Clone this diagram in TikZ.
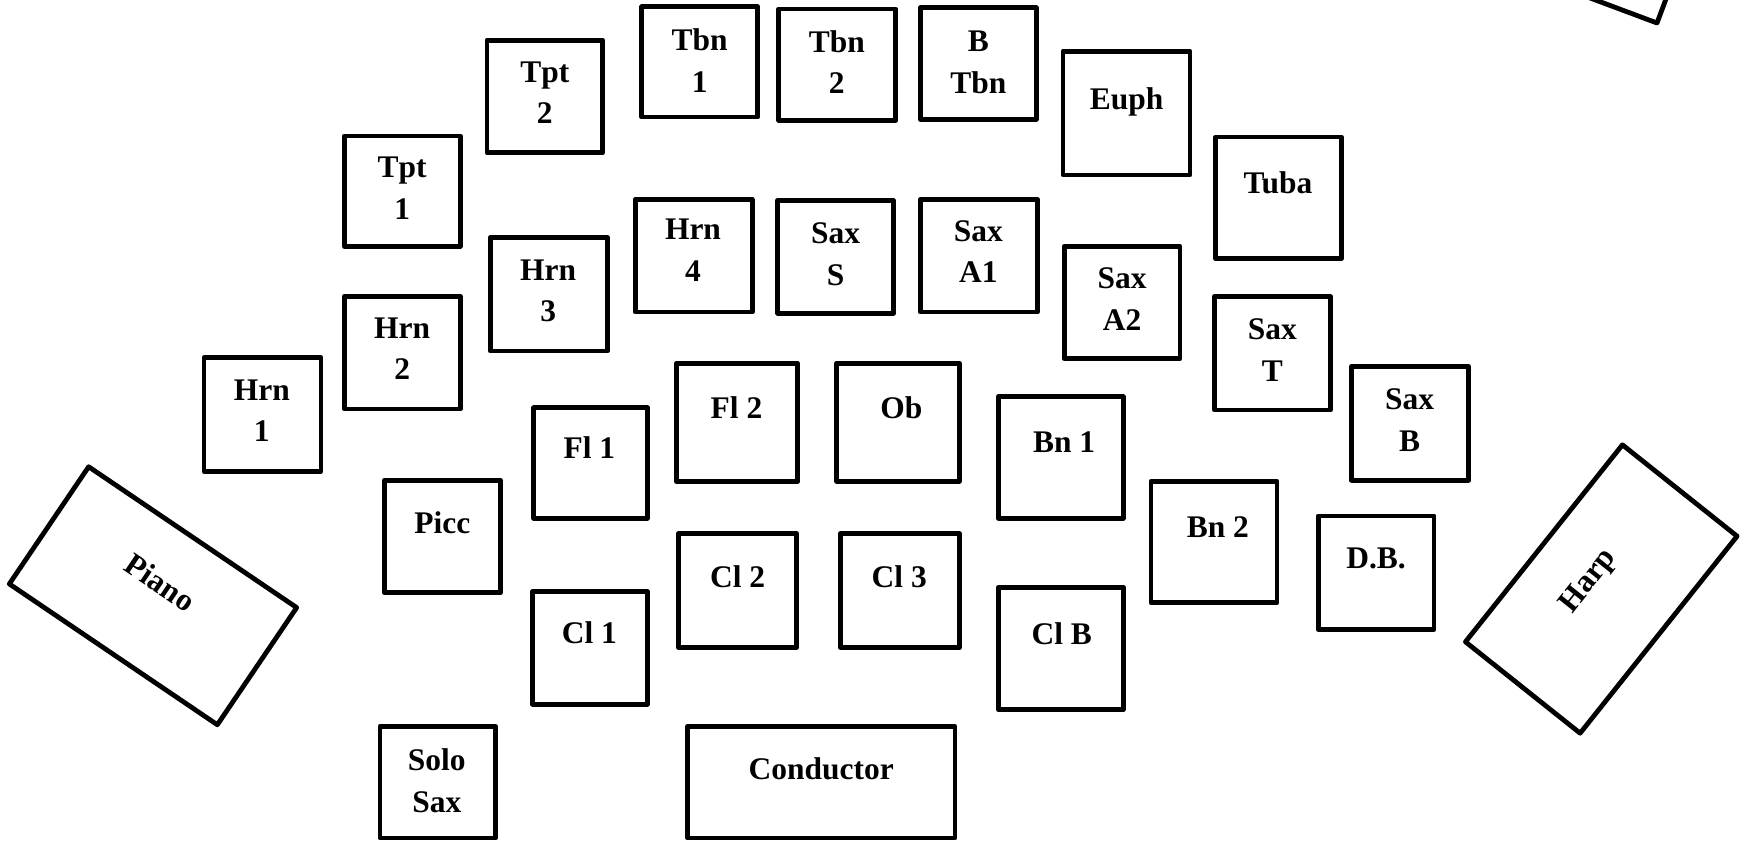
\documentclass[tikz,border=0pt]{standalone}
\usepackage{fontspec}
\setmainfont{Liberation Serif}
\tikzset{every picture/.style={line width=3.6pt}}

\begin{document}
\begin{tikzpicture}[x=0.75pt,y=0.75pt,yscale=-1,xscale=1,
	box/.style={line join=round},
	lbl/.style={font=\fontsize{23.6}{31.2}\selectfont\bfseries, align=center, anchor=north, inner sep=0pt},
	tilt/.style={font=\fontsize{23.6}{31.2}\selectfont\bfseries, inner sep=0pt}]
	\useasboundingbox (0,0) rectangle (1747,843);
	\clip (0,0) rectangle (1747,843);

	%Shape: Rectangle, back row
	\draw [box] (641.8,6.7) rectangle (757.7,117);
	\draw [box] (778.8,8.9) rectangle (895.8,120.3);
	\draw [box] (920.3,7.8) rectangle (1036.2,119.2);
	\draw [box] (486.9,40.1) rectangle (602.8,152.6);
	\draw [box] (1063,51.3) rectangle (1190,174.9);
	\draw [box] (344.3,135.9) rectangle (460.2,246.2);
	\draw [box] (1215.6,137) rectangle (1341.5,258.5);
	%Shape: Rectangle, horns and saxes
	\draw [box] (635.1,199.4) rectangle (752.1,312);
	\draw [box] (777.7,200.6) rectangle (893.6,313.1);
	\draw [box] (920.3,199.4) rectangle (1037.3,312);
	\draw [box] (490.2,237.3) rectangle (607.2,351);
	\draw [box] (1064.1,246.2) rectangle (1179.9,358.8);
	\draw [box] (344.3,296.4) rectangle (460.2,408.9);
	\draw [box] (1214.5,296.4) rectangle (1330.4,410);
	\draw [box] (203.9,357.7) rectangle (320.9,471.3);
	\draw [box] (1351.5,366.6) rectangle (1468.5,480.2);
	%Shape: Rectangle, woodwinds
	\draw [box] (676.3,363.2) rectangle (797.8,481.3);
	\draw [box] (836.8,363.2) rectangle (959.3,481.3);
	\draw [box] (998.3,396.7) rectangle (1123.1,518.1);
	\draw [box] (533.7,407.8) rectangle (647.4,518.1);
	\draw [box] (384.4,480.2) rectangle (500.3,592.8);
	\draw [box] (1151,481.3) rectangle (1276.9,602.8);
	\draw [box] (1318.1,515.9) rectangle (1434,629.5);
	\draw [box] (678.6,533.7) rectangle (796.7,647.4);
	\draw [box] (840.1,533.7) rectangle (959.3,647.4);
	\draw [box] (532.6,591.6) rectangle (647.4,704.2);
	\draw [box] (998.3,587.2) rectangle (1123.1,709.7);
	%Shape: Rectangle, front
	\draw [box] (379.9,726.5) rectangle (495.8,837.9);
	\draw [box] (687.5,726.5) rectangle (954.9,837.9);
	%Shape: Rotated Rectangle
	\draw [box, rotate around={34.1:(153,595.75)}] (27.4,525) rectangle (278.6,666.5);
	\draw [box, rotate around={-51.45:(1601.25,589)}] (1475.3,515.7) rectangle (1727.2,662.3);
	\draw [box] (1657,23) -- (1422.8,-64.5) -- (1473.9,-201.3) -- (1708.1,-113.8) -- cycle;

	% Text Node
	\node [lbl] (tbn1) at (699.7,26.4) {Tbn\\1};
	\node [lbl] (tbn2) at (836.8,28.1) {Tbn\\2};
	\node [lbl] (btbn) at (978.3,28.8) {B\\Tbn};
	\node [lbl] (tpt2) at (544.8,59.3) {Tpt\\2};
	\node [lbl] (euph) at (1126.5,85.2) {Euph};
	\node [lbl] (tpt1) at (402.2,154.6) {Tpt\\1};
	\node [lbl] (tuba) at (1278,169.6) {Tuba};
	\node [lbl] (hrn4) at (693,216.8) {Hrn\\4};
	\node [lbl] (saxs) at (835.7,220.3) {Sax\\S};
	\node [lbl] (saxa1) at (978.3,218) {Sax\\A1};
	\node [lbl] (hrn3) at (548.2,257.2) {Hrn\\3};
	\node [lbl] (saxa2) at (1122,265.2) {Sax\\A2};
	\node [lbl] (hrn2) at (402.2,315.3) {Hrn\\2};
	\node [lbl] (saxt) at (1272.4,316.7) {Sax\\T};
	\node [lbl] (hrn1) at (261.8,377.3) {Hrn\\1};
	\node [lbl] (saxb) at (1409.5,386.2) {Sax\\B};
	\node [lbl] (fl2) at (736.5,394.1) {Fl 2};
	\node [lbl] (ob) at (901.4,394.7) {Ob};
	\node [lbl] (bn1) at (1064.1,429.5) {Bn 1};
	\node [lbl] (fl1) at (589.4,434.2) {Fl 1};
	\node [lbl] (picc) at (442.3,508.8) {Picc};
	\node [lbl] (bn2) at (1217.8,514.7) {Bn 2};
	\node [lbl] (db) at (1376,545.9) {D.B.};
	\node [lbl] (cl2) at (737.6,563.4) {Cl 2};
	\node [lbl] (cl3) at (899.2,563.4) {Cl 3};
	\node [lbl] (cl1) at (589.4,619.2) {Cl 1};
	\node [lbl] (clb) at (1061.8,620.7) {Cl B};
	\node [lbl] (solosax) at (436.8,746.2) {Solo\\Sax};
	\node [lbl] (conductor) at (821.2,755.1) {Conductor};
	\node [tilt, rotate=-34.1] (piano) at (160.5,582.5) {Piano};
	\node [tilt, rotate=51.45] (harp) at (1589,581.7) {Harp};

\end{tikzpicture}
\end{document}
